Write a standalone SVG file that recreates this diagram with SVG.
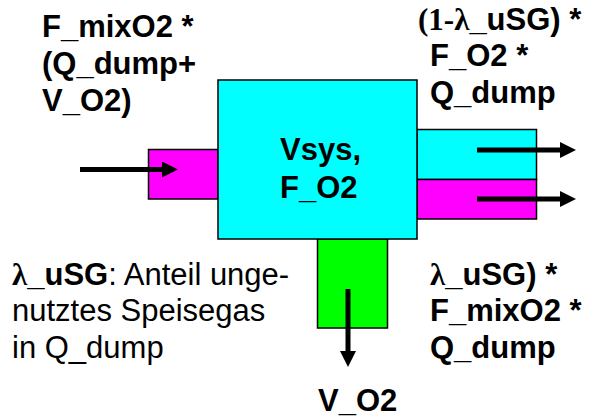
<svg xmlns="http://www.w3.org/2000/svg" width="598" height="420" viewBox="0 0 598 420">
<style>
.t{font-family:"Liberation Sans",Arial,sans-serif;font-size:31px;font-weight:bold;fill:#000}
.r{font-weight:normal}
.s{font-family:"Liberation Serif","Times New Roman",serif}
.box{stroke:#000;stroke-width:1.5}
.arr{stroke:#000;stroke-width:5;fill:none}
</style>
<defs>
<marker id="ah" markerUnits="userSpaceOnUse" markerWidth="16" markerHeight="16" viewBox="0 0 16 16" refX="1" refY="8" orient="auto">
<polygon points="0,0 16,8 0,16" fill="#000"/>
</marker>
</defs>
<rect width="598" height="420" fill="#fff"/>
<g id="inlet"><rect class="box" x="148.5" y="149.5" width="69.5" height="49.5" fill="#FF00FF"/></g>
<g id="outlet-top"><rect class="box" x="417" y="129.5" width="119.5" height="50" fill="#00FFFF"/></g>
<g id="outlet-bottom"><rect class="box" x="417" y="179.5" width="119.5" height="39.5" fill="#FF00FF"/></g>
<g id="outlet-down"><rect class="box" x="317.5" y="239" width="70" height="89" fill="#00FF00"/></g>
<g id="system">
<rect class="box" x="218" y="80" width="199" height="159" fill="#00FFFF"/>
<text class="t" x="280" y="160">Vsys,</text>
<text class="t" x="280" y="198">F_O2</text>
</g>
<g id="connectors">
<line class="arr" x1="80" y1="169.5" x2="163" y2="169.5" marker-end="url(#ah)"/>
<line class="arr" x1="477" y1="150" x2="561" y2="150" marker-end="url(#ah)"/>
<line class="arr" x1="477" y1="199" x2="561" y2="199" marker-end="url(#ah)"/>
<line class="arr" x1="348" y1="289" x2="348" y2="352" marker-end="url(#ah)"/>
</g>
<g id="labels">
<text class="t" x="42" y="37">F_mixO2 *</text>
<text class="t" x="42" y="74">(Q_dump+</text>
<text class="t" x="42" y="111">V_O2)</text>
<text class="t" x="418" y="30"><tspan class="s">(1-λ</tspan>_uSG) *</text>
<text class="t" x="430" y="66">F_O2 *</text>
<text class="t" x="430" y="103">Q_dump</text>
<text class="t" x="430" y="285"><tspan class="s">λ</tspan>_uSG) *</text>
<text class="t" x="430" y="321">F_mixO2 *</text>
<text class="t" x="430" y="358">Q_dump</text>
<text class="t" x="12" y="285"><tspan class="s">λ</tspan>_uSG<tspan class="r">: Anteil unge-</tspan></text>
<text class="t r" x="12" y="321">nutztes Speisegas</text>
<text class="t r" x="12" y="358">in Q_dump</text>
<text class="t" x="318" y="411">V_O2</text>
</g>
</svg>
